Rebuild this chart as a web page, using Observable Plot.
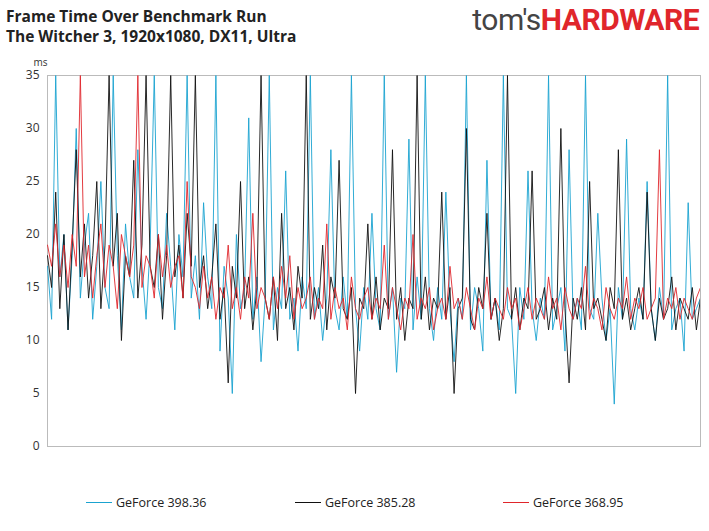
<!DOCTYPE html>
<html><head><meta charset="utf-8">
<script src="https://cdn.jsdelivr.net/npm/d3@7"></script>
<script src="https://cdn.jsdelivr.net/npm/@observablehq/plot@0.6"></script>
<style>
body{margin:0;width:709px;height:531px;position:relative;font-family:"Open Sans",Calibri,sans-serif;background:#fff;overflow:hidden}
#title{position:absolute;left:6px;top:6px;font-weight:bold;font-size:15.5px;line-height:20px;color:#222}
#logo{position:absolute;right:10px;top:2px;font-size:30px;font-family:"Roboto",sans-serif;letter-spacing:-0.5px}
#legend{position:absolute;top:494px;left:0;width:709px;font-size:12.5px;color:#222}
.li{position:absolute;display:flex;align-items:center}
.sw{width:26px;height:1.5px;margin-right:4px}
#chart{position:absolute;left:0;top:0}
</style></head><body>
<div id="chart"></div>
<div id="title">Frame Time Over Benchmark Run<br>The Witcher 3, 1920x1080, DX11, Ultra</div>
<div id="logo"><span style="color:#444">tom's</span><span style="color:#e0262b;font-weight:bold">HARDWARE</span></div>
<div id="legend">
<div class="li" style="left:86px"><div class="sw" style="background:#1aa3d0"></div>GeForce 398.36</div>
<div class="li" style="left:295px"><div class="sw" style="background:#111"></div>GeForce 385.28</div>
<div class="li" style="left:503px"><div class="sw" style="background:#e0262b"></div>GeForce 368.95</div>
</div>
<script>
const blue=[17,12,35,16,20,11,18,30,14,19,22,12,17,25,15,13,35,18,11,21,16,14,28,17,12,19,35,15,13,22,17,11,20,16,35,14,18,12,23,16,
13,35,9,17,14,5,20,13,15,31,12,16,8,14,35,11,15,13,26,12,14,9,16,13,35,12,15,10,14,28,13,11,16,12,35,13,9,15,12,22,
13,11,35,12,15,7,14,13,29,11,16,12,35,13,10,15,12,24,13,8,14,12,35,11,15,13,9,27,12,14,11,35,13,12,5,15,12,26,13,10,
14,12,35,11,13,15,9,28,12,14,11,35,13,12,22,14,10,13,4,15,12,29,13,11,14,12,25,13,10,15,12,35,11,13,14,9,23,12,13,14];
const black=[18,15,24,13,20,11,19,28,16,21,14,18,25,13,19,35,17,22,10,18,16,27,14,19,35,17,15,20,12,18,35,16,19,14,22,17,35,15,18,13,
16,21,12,15,6,17,14,25,13,16,11,15,35,14,12,16,10,22,13,15,11,17,14,35,12,15,13,19,11,16,14,27,13,12,15,5,14,13,21,12,
16,11,14,13,28,12,15,10,14,13,35,12,16,11,14,13,24,12,15,5,13,14,30,12,11,15,13,22,12,14,10,13,35,12,15,11,14,13,26,12,
13,15,11,14,12,30,13,6,14,12,15,11,25,13,14,12,10,15,13,28,12,14,11,13,15,12,24,13,10,14,12,13,16,11,14,13,12,15,11,14];
const red=[19,17,21,16,19,15,20,17,35,16,19,14,18,21,15,19,17,13,20,18,16,19,35,15,18,17,14,20,16,19,15,17,18,14,25,16,15,13,17,14,
16,12,15,14,19,13,15,12,16,14,22,13,15,14,12,16,13,17,14,18,12,15,13,14,16,12,14,13,21,12,15,13,14,11,16,13,12,14,15,12,
14,13,19,12,15,13,11,14,13,20,12,14,13,15,11,13,14,12,17,13,14,12,15,13,11,14,13,16,12,14,13,12,15,13,14,11,13,15,12,14,
13,12,16,13,14,11,15,13,12,14,13,17,12,14,13,11,15,13,12,14,13,16,12,14,13,15,12,13,14,28,12,14,13,15,12,14,13,12,14,15];
const yTicks=[0,5,10,15,20,25,30,35];
const series=[["398.36",blue,"#1aa3d0"],["385.28",black,"#111"],["368.95",red,"#e0262b"]];
const rows=series.flatMap(([k,v])=>v.map((y,i)=>({i,y:Math.min(y,35),k})));
const n=blue.length;
const plot=Plot.plot({
  width:709,height:470,marginLeft:47,marginRight:9,marginTop:75,marginBottom:24,
  style:{fontFamily:"Open Sans, sans-serif",fontSize:"12px",color:"#333"},
  x:{domain:[0,n-1],axis:null},
  y:{domain:[0,35],ticks:yTicks,label:null},
  color:{domain:series.map(s=>s[0]),range:series.map(s=>s[2])},
  marks:[
    Plot.frame({stroke:"#bbb"}),
    Plot.axisY({ticks:yTicks,tickSize:0,tickPadding:8,fontSize:12}),
    Plot.text(["ms"],{frameAnchor:"top-left",dx:-14,dy:-17,fontSize:10}),
    Plot.lineY(rows,{x:"i",y:"y",z:"k",stroke:"k",strokeWidth:0.9,clip:true})
  ]
});
document.getElementById("chart").append(plot);
</script>
</body></html>
